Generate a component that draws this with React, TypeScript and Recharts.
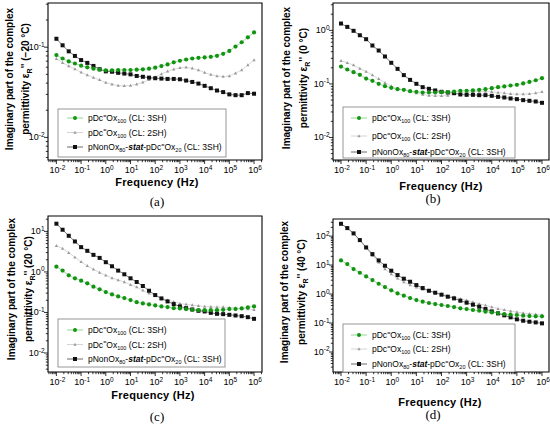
import React from 'react';
import { LineChart, Line, XAxis, YAxis, ReferenceArea } from 'recharts';

// Frequency (Hz)
const FREQ = [0.01, 0.0178, 0.0316, 0.0562, 0.1, 0.178, 0.316, 0.562, 1, 1.78, 3.16, 5.62, 10, 17.8, 31.6, 56.2, 100, 178, 316, 562, 1000, 1780, 3160, 5620, 10000, 17800, 31600, 56200, 100000, 178000, 316000, 562000, 1000000];

// (a) -20 °C
const A_GREEN = [0.0817, 0.075, 0.0695, 0.066, 0.0624, 0.0598, 0.0578, 0.0564, 0.0554, 0.0554, 0.0559, 0.0559, 0.0559, 0.0564, 0.0569, 0.0578, 0.0593, 0.0618, 0.0645, 0.068, 0.0708, 0.0731, 0.075, 0.0763, 0.077, 0.0783, 0.0803, 0.0845, 0.091, 0.1017, 0.1135, 0.1288, 0.146];
const A_GRAY = [0.0745, 0.0673, 0.0618, 0.0573, 0.0527, 0.0492, 0.046, 0.0434, 0.0405, 0.0389, 0.0376, 0.0373, 0.0376, 0.0389, 0.0409, 0.0434, 0.0468, 0.0505, 0.054, 0.0569, 0.0593, 0.0598, 0.0583, 0.0559, 0.0522, 0.0497, 0.048, 0.0472, 0.048, 0.0514, 0.0559, 0.0634, 0.072];
const A_BLACK = [0.124, 0.105, 0.09, 0.08, 0.072, 0.067, 0.062, 0.057, 0.054, 0.0535, 0.052, 0.051, 0.05, 0.048, 0.047, 0.046, 0.0453, 0.0449, 0.0445, 0.0445, 0.0441, 0.0427, 0.0412, 0.0395, 0.0373, 0.0351, 0.0331, 0.0318, 0.03, 0.0294, 0.0294, 0.031, 0.0305];

// (b) 0 °C
const B_GREEN = [0.211, 0.186, 0.166, 0.148, 0.126, 0.114, 0.1004, 0.0908, 0.0845, 0.0798, 0.0776, 0.0733, 0.0713, 0.0692, 0.0692, 0.0692, 0.0702, 0.0702, 0.0722, 0.0743, 0.0743, 0.0755, 0.0776, 0.0798, 0.0834, 0.087, 0.0896, 0.0935, 0.0962, 0.102, 0.109, 0.117, 0.128];
const B_GRAY = [0.27, 0.248, 0.224, 0.194, 0.171, 0.146, 0.1245, 0.105, 0.0908, 0.0822, 0.0776, 0.0722, 0.0673, 0.0635, 0.0608, 0.06, 0.06, 0.0608, 0.0644, 0.0673, 0.0692, 0.0713, 0.0722, 0.0722, 0.0713, 0.0692, 0.0673, 0.0653, 0.0644, 0.0644, 0.0653, 0.0673, 0.0713];
const B_BLACK = [1.34, 1.16, 0.98, 0.81, 0.684, 0.521, 0.42, 0.325, 0.248, 0.191, 0.146, 0.119, 0.1004, 0.087, 0.081, 0.0755, 0.0713, 0.0692, 0.0673, 0.0635, 0.0626, 0.0626, 0.0617, 0.0617, 0.06, 0.0574, 0.0558, 0.0535, 0.052, 0.0498, 0.0484, 0.047, 0.0444];

// (c) 20 °C
const C_GREEN = [1.35, 1.08, 0.826, 0.697, 0.61, 0.524, 0.433, 0.372, 0.319, 0.279, 0.249, 0.227, 0.202, 0.18, 0.167, 0.158, 0.149, 0.141, 0.1356, 0.128, 0.1256, 0.121, 0.1165, 0.114, 0.114, 0.114, 0.114, 0.1165, 0.121, 0.121, 0.1256, 0.133, 0.141];
const C_GRAY = [4.4, 3.79, 2.96, 2.31, 1.77, 1.41, 1.16, 0.96, 0.826, 0.71, 0.633, 0.565, 0.485, 0.425, 0.351, 0.296, 0.264, 0.227, 0.202, 0.184, 0.167, 0.158, 0.152, 0.146, 0.141, 0.138, 0.1356, 0.1356, 0.133, 0.1306, 0.1256, 0.121, 0.1165];
const C_BLACK = [15.5, 11.0, 7.8, 5.65, 4.09, 3.32, 2.64, 2.22, 1.74, 1.38, 1.08, 0.875, 0.697, 0.565, 0.45, 0.344, 0.269, 0.222, 0.1875, 0.161, 0.141, 0.128, 0.1187, 0.11, 0.106, 0.098, 0.0927, 0.091, 0.0876, 0.0843, 0.0811, 0.0766, 0.0697];

// (d) 40 °C
const D_GREEN = [14.5, 10.8, 7.28, 5.44, 4.07, 3.04, 2.27, 1.74, 1.34, 1.05, 0.877, 0.728, 0.621, 0.544, 0.49, 0.452, 0.418, 0.386, 0.356, 0.321, 0.304, 0.281, 0.266, 0.246, 0.233, 0.221, 0.204, 0.194, 0.189, 0.179, 0.174, 0.17, 0.17];
const D_GRAY = [266, 189, 124, 69, 38.5, 21.5, 12.4, 7.28, 4.9, 3.47, 2.59, 2.04, 1.7, 1.45, 1.27, 1.11, 1.0, 0.877, 0.789, 0.69, 0.605, 0.53, 0.464, 0.407, 0.356, 0.312, 0.288, 0.259, 0.239, 0.221, 0.21, 0.199, 0.189];
const D_BLACK = [266, 189, 124, 72.8, 40.6, 23.9, 14.5, 9.49, 6.38, 4.52, 3.38, 2.66, 2.04, 1.61, 1.3, 1.11, 0.949, 0.809, 0.709, 0.589, 0.503, 0.429, 0.366, 0.304, 0.252, 0.215, 0.184, 0.157, 0.134, 0.12, 0.111, 0.105, 0.0975];

const TEMPS = ['\u221220 \u00b0C', '0 \u00b0C', '20 \u00b0C', '40 \u00b0C'];
const CAPTIONS = ['(a)', '(b)', '(c)', '(d)'];

const SANS = "'Liberation Sans', Arial, Helvetica, sans-serif";
const SERIF = "'Liberation Serif', 'DejaVu Serif', serif";
const GREEN = '#129412';
const GREEN_LINE = '#86d086';
const GRAY = '#9a9a9a';
const GRAY_LINE = '#cfcfcf';
const BLACK = '#111111';
const BLACK_LINE = '#5a5a5a';

type Kind = 'n' | 'sup' | 'sub' | 'bi';
type Seg = [string, Kind];

function spans(list: Seg[], small: number) {
  let cur = 0;
  return list.map(([t, k], i) => {
    const target = k === 'sup' ? -small * 0.6 : k === 'sub' ? small * 0.45 : 0;
    const dy = target - cur;
    cur = target;
    return (
      <tspan
        key={i}
        dy={dy}
        fontSize={k === 'sup' || k === 'sub' ? small : undefined}
        fontWeight={k === 'bi' ? 'bold' : undefined}
        fontStyle={k === 'bi' ? 'italic' : undefined}
      >
        {t}
      </tspan>
    );
  });
}

function logTicks(domain: number[]) {
  const out: number[] = [];
  const lo = domain[0];
  const hi = domain[1];
  for (let e = Math.floor(Math.log10(lo)); e <= Math.ceil(Math.log10(hi)); e++) {
    for (let m = 1; m <= 9; m++) {
      const v = parseFloat((m * Math.pow(10, e)).toPrecision(6));
      if (v >= lo && v <= hi) out.push(v);
    }
  }
  return out;
}

function expOf(v: number) {
  const e = Math.round(Math.log10(v));
  const major = Math.abs(v / Math.pow(10, e) - 1) < 1e-6;
  return { e, major };
}

const XTick = (p: any) => {
  const { x, y, payload } = p;
  const { e, major } = expOf(payload.value);
  return (
    <g>
      <line x1={x} x2={x} y1={y} y2={y + (major ? 4 : 2.2)} stroke="#000" strokeWidth={0.8} />
      {major && (
        <text x={x + 1} y={y + 13} textAnchor="middle" fontSize={9} fontFamily={SANS} fill="#000">
          10<tspan dy={-3.5} fontSize={6.5}>{e}</tspan>
        </text>
      )}
    </g>
  );
};

const YTick = (p: any) => {
  const { x, y, payload } = p;
  const { e, major } = expOf(payload.value);
  return (
    <g>
      <line x1={x} x2={x - (major ? 4 : 2.2)} y1={y} y2={y} stroke="#000" strokeWidth={0.8} />
      {major && (
        <text x={x - 3.5} y={y + 3} textAnchor="end" fontSize={9} fontFamily={SANS} fill="#000">
          10<tspan dy={-3.5} fontSize={6.5}>{e}</tspan>
        </text>
      )}
    </g>
  );
};

const GreenDot = (p: any) =>
  p.cx == null ? <g key={`g${p.index}`} /> : <circle key={`g${p.index}`} cx={p.cx} cy={p.cy} r={2.1} fill={GREEN} />;
const GrayDot = (p: any) =>
  p.cx == null ? (
    <g key={`s${p.index}`} />
  ) : (
    <path key={`s${p.index}`} d={`M${p.cx},${p.cy - 1.8} L${p.cx + 1.6},${p.cy + 1.2} L${p.cx - 1.6},${p.cy + 1.2} Z`} fill={GRAY} />
  );
const BlackDot = (p: any) =>
  p.cx == null ? <g key={`b${p.index}`} /> : <rect key={`b${p.index}`} x={p.cx - 2} y={p.cy - 2} width={4} height={4} fill={BLACK} />;

const ROW1: Seg[] = [['pDc', 'n'], ['=', 'sup'], ['Ox', 'n'], ['100', 'sub'], [' (CL: 3SH)', 'n']];
const ROW2: Seg[] = [['pDc', 'n'], ['=', 'sup'], ['Ox', 'n'], ['100', 'sub'], [' (CL: 2SH)', 'n']];
const ROW3: Seg[] = [['pNonOx', 'n'], ['80', 'sub'], ['-', 'n'], ['stat', 'bi'], ['-pDc', 'n'], ['=', 'sup'], ['Ox', 'n'], ['20', 'sub'], [' (CL: 3SH)', 'n']];

interface Cfg {
  left: number; top: number; h: number;
  margin: { top: number; right: number; bottom: number; left: number };
  xDomain: number[]; yDomain: number[];
  green: number[]; gray: number[]; black: number[];
  temp: string; caption: string;
  yl: { x1: number; x2: number; cy: number };
  xl: { cx: number; y: number; capY: number; capX: number };
  lg: { x: number; y: number; w: number; h: number; rows: number[]; lx1: number; lx2: number; tx: number };
}

const PANELS: Cfg[] = [
  {
    left: 0, top: 0, h: 212,
    margin: { top: 3, right: 13, bottom: 32, left: 8 },
    xDomain: [0.00457, 2.1e6], yDomain: [0.00562, 0.309],
    green: A_GREEN, gray: A_GRAY, black: A_BLACK, temp: TEMPS[0], caption: CAPTIONS[0],
    yl: { x1: 12.5, x2: 28.5, cy: 79 },
    xl: { cx: 157, y: 186, capY: 206, capX: 157 },
    lg: { x: 58, y: 109, w: 168, h: 48, rows: [118, 132.5, 147], lx1: 67, lx2: 83, tx: 88 },
  },
  {
    left: 275, top: 0, h: 212,
    margin: { top: 3, right: 1, bottom: 32, left: 18 },
    xDomain: [0.0048, 1.9e6], yDomain: [0.0038, 3.24],
    green: B_GREEN, gray: B_GRAY, black: B_BLACK, temp: TEMPS[1], caption: CAPTIONS[1],
    yl: { x1: 15, x2: 31.5, cy: 78 },
    xl: { cx: 166, y: 190, capY: 203, capX: 158 },
    lg: { x: 68, y: 107, w: 172, h: 51, rows: [118, 136, 152], lx1: 76, lx2: 92, tx: 97 },
  },
  {
    left: 0, top: 212, h: 213,
    margin: { top: 4, right: 13, bottom: 33, left: 8 },
    xDomain: [0.00457, 2.1e6], yDomain: [0.0034, 24],
    green: C_GREEN, gray: C_GRAY, black: C_BLACK, temp: TEMPS[2], caption: CAPTIONS[2],
    yl: { x1: 15, x2: 31.5, cy: 77 },
    xl: { cx: 153, y: 187, capY: 209, capX: 157 },
    lg: { x: 58, y: 107, w: 167, h: 48, rows: [118, 132.5, 147], lx1: 67, lx2: 83, tx: 88 },
  },
  {
    left: 275, top: 212, h: 213,
    margin: { top: 7, right: 1, bottom: 33, left: 18 },
    xDomain: [0.0048, 1.9e6], yDomain: [0.00204, 389],
    green: D_GREEN, gray: D_GRAY, black: D_BLACK, temp: TEMPS[3], caption: CAPTIONS[3],
    yl: { x1: 13, x2: 30, cy: 80 },
    xl: { cx: 165, y: 194, capY: 207, capX: 158 },
    lg: { x: 68, y: 112, w: 172, h: 48, rows: [123, 137, 152], lx1: 76, lx2: 92, tx: 97 },
  },
];

function LegendBox({ lg }: { lg: Cfg['lg'] }) {
  const rows: { segs: Seg[]; color: string; line: string; kind: 'g' | 's' | 'b' }[] = [
    { segs: ROW1, color: GREEN, line: GREEN_LINE, kind: 'g' },
    { segs: ROW2, color: GRAY, line: GRAY_LINE, kind: 's' },
    { segs: ROW3, color: BLACK, line: BLACK_LINE, kind: 'b' },
  ];
  const mx = (lg.lx1 + lg.lx2) / 2;
  return (
    <g>
      <rect x={lg.x} y={lg.y} width={lg.w} height={lg.h} fill="#fff" stroke="#8c8c8c" strokeWidth={0.9} />
      {rows.map((r, i) => {
        const y = lg.rows[i];
        return (
          <g key={i}>
            <line x1={lg.lx1} x2={lg.lx2} y1={y} y2={y} stroke={r.line} strokeWidth={0.9} />
            {r.kind === 'g' && <circle cx={mx} cy={y} r={2} fill={GREEN} />}
            {r.kind === 's' && <path d={`M${mx},${y - 1.8} L${mx + 1.6},${y + 1.2} L${mx - 1.6},${y + 1.2} Z`} fill={GRAY} />}
            {r.kind === 'b' && <rect x={mx - 2} y={y - 2} width={4} height={4} fill={BLACK} />}
            <text x={lg.tx} y={y + 3} fontSize={8.5} fontFamily={SANS} fill="#000" style={{ whiteSpace: 'pre' }}>
              {spans(r.segs, 5.5)}
            </text>
          </g>
        );
      })}
    </g>
  );
}

function Panel({ cfg }: { cfg: Cfg }) {
  const data = FREQ.map((f, i) => ({ f, g: cfg.green[i], s: cfg.gray[i], b: cfg.black[i] }));
  const xTicks = logTicks(cfg.xDomain);
  const yTicks = logTicks(cfg.yDomain);
  const ylab = () => (
    <g>
      <text
        transform={`translate(${cfg.yl.x1},${cfg.yl.cy}) rotate(-90)`}
        textAnchor="middle"
        fontSize={10}
        fontWeight="bold"
        fontFamily={SANS}
        fill="#000"
      >
        Imaginary part of the complex
      </text>
      <text
        transform={`translate(${cfg.yl.x2},${cfg.yl.cy}) rotate(-90)`}
        textAnchor="middle"
        fontSize={10}
        fontWeight="bold"
        fontFamily={SANS}
        fill="#000"
        style={{ whiteSpace: 'pre' }}
      >
        {spans([['permittivity \u03b5', 'n'], ['R', 'sub'], ["'' (" + cfg.temp + ')', 'n']], 7)}
      </text>
    </g>
  );
  const xlab = () => (
    <g>
      <text x={cfg.xl.cx} y={cfg.xl.y} textAnchor="middle" fontSize={11} fontWeight="bold" fontFamily={SANS} fill="#000" letterSpacing={0.3}>
        Frequency (Hz)
      </text>
      <text x={cfg.xl.capX} y={cfg.xl.capY} textAnchor="middle" fontSize={13} fontFamily={SERIF} fill="#000">
        {cfg.caption}
      </text>
      <LegendBox lg={cfg.lg} />
    </g>
  );
  return (
    <div style={{ position: 'absolute', left: cfg.left, top: cfg.top }}>
      <LineChart width={275} height={cfg.h} data={data} margin={cfg.margin}>
        <XAxis
          dataKey="f"
          type="number"
          scale="log"
          domain={cfg.xDomain}
          allowDataOverflow
          ticks={xTicks}
          interval={0}
          tickSize={0}
          tickMargin={0}
          tickLine={false}
          axisLine={false}
          height={20}
          tick={XTick}
          label={xlab}
        />
        <YAxis
          type="number"
          scale="log"
          domain={cfg.yDomain}
          allowDataOverflow
          ticks={yTicks}
          interval={0}
          tickSize={0}
          tickMargin={0}
          tickLine={false}
          axisLine={false}
          width={40}
          tick={YTick}
          label={ylab}
        />
        <ReferenceArea
          x1={cfg.xDomain[0]}
          x2={cfg.xDomain[1]}
          y1={cfg.yDomain[0]}
          y2={cfg.yDomain[1]}
          fill="none"
          fillOpacity={0}
          stroke="#000"
          strokeWidth={1.1}
          ifOverflow="visible"
        />
        <Line dataKey="s" stroke={GRAY_LINE} strokeWidth={0.8} dot={GrayDot} isAnimationActive={false} />
        <Line dataKey="b" stroke={BLACK_LINE} strokeWidth={0.8} dot={BlackDot} isAnimationActive={false} />
        <Line dataKey="g" stroke={GREEN_LINE} strokeWidth={0.8} dot={GreenDot} isAnimationActive={false} />
      </LineChart>
    </div>
  );
}

export default function App() {
  return (
    <div style={{ position: 'absolute', left: 0, top: 0, width: 550, height: 425, background: '#fff', overflow: 'hidden' }}>
      {PANELS.map((cfg, i) => (
        <Panel key={i} cfg={cfg} />
      ))}
    </div>
  );
}
